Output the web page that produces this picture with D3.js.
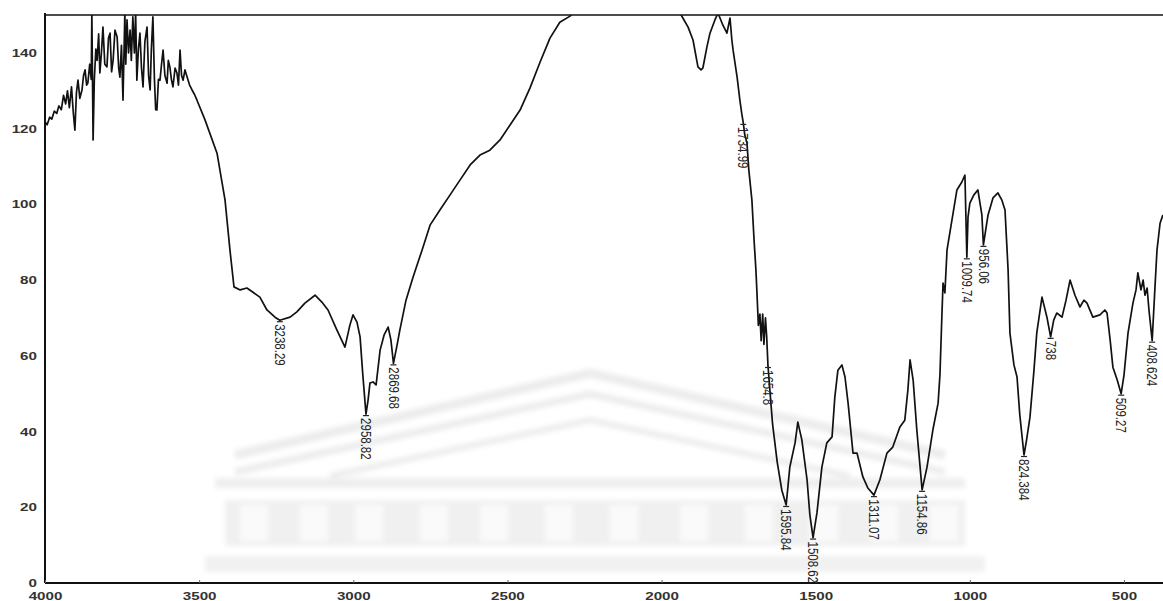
<!DOCTYPE html>
<html>
<head>
<meta charset="utf-8">
<script src="https://cdn.jsdelivr.net/npm/d3@7"></script>
<style>
  html, body { margin: 0; padding: 0; background: #fff; }
  svg { display: block; }
</style>
</head>
<body>
<svg id="chart" width="1163" height="601"></svg>
<script>
// IR spectrum: wavenumber (cm-1) vs transmittance
const wavenumbers = [
  4000, 3993, 3985, 3978, 3970, 3962, 3955, 3947, 3940, 3933,
  3927, 3921, 3914, 3908, 3903, 3898, 3893, 3887, 3880, 3875,
  3870, 3865, 3861, 3855, 3850, 3848, 3844, 3840, 3835, 3831,
  3826, 3822, 3817, 3812, 3806, 3799, 3794, 3789, 3784, 3779,
  3773, 3766, 3761, 3757, 3752, 3747, 3741, 3738, 3734, 3729,
  3724, 3720, 3715, 3710, 3706, 3702, 3697, 3692, 3687, 3682,
  3676, 3669, 3664, 3659, 3655, 3650, 3645, 3641, 3637, 3632,
  3627, 3622, 3617, 3611, 3604, 3600, 3595, 3590, 3585, 3578,
  3572, 3567, 3562, 3557, 3552, 3546, 3539, 3531, 3523, 3515,
  3507,
  3481, 3442, 3416, 3400, 3387, 3367, 3345, 3303, 3280, 3254, 3238.29, 3205, 3183, 3157,
  3124, 3102, 3082, 3053, 3027, 3011, 3001, 2988, 2978, 2969, 2958.82, 2952, 2946, 2936,
  2926, 2913, 2900, 2887, 2878, 2869.68, 2858, 2849, 2829, 2806, 2777, 2751, 2719, 2686,
  2654, 2621, 2589, 2557, 2524, 2492, 2459, 2427, 2394, 2362, 2330, 2297, 2260, 2200,
  2130, 2060, 1990, 1957, 1940, 1931, 1914, 1898, 1882, 1872, 1866, 1853, 1843, 1827,
  1817, 1801, 1788, 1778, 1772, 1768, 1755, 1746, 1740, 1734.99, 1730, 1723, 1717, 1707,
  1700, 1694, 1691, 1686, 1681, 1677, 1672, 1668, 1663, 1659, 1654.8, 1640, 1625, 1610,
  1595.84, 1584, 1567, 1558, 1545, 1528, 1519, 1508.62, 1496, 1480, 1464, 1447, 1438,
  1428, 1415, 1405, 1395, 1379, 1366, 1347, 1331, 1311.07, 1292, 1269, 1250, 1227, 1211,
  1201, 1194, 1184, 1172, 1154.86, 1139, 1120, 1103, 1097, 1091, 1087, 1081, 1074, 1058,
  1042, 1026, 1016, 1009.74, 1006, 1000, 987, 974, 961, 956.06, 941, 925, 909, 896, 886,
  876, 870, 857, 847, 838, 824.384, 816, 805, 792, 783, 766, 750, 738, 728, 718, 701,
  688, 675, 659, 643, 630, 620, 601, 578, 562, 555, 545, 536, 522, 509.27, 500, 487,
  471, 461, 455, 445, 438, 432, 425, 419, 408.624, 400, 393, 383, 374
];
const transmittance = [
  121.8, 121.0, 123.0, 122.5, 124.6, 124.0, 126.0, 125.0, 128.8, 126.5,
  130.0, 125.5, 131.0, 124.0, 119.6, 129.5, 132.8, 128.0, 130.2, 134.0,
  135.5, 131.5, 132.0, 137.0, 133.0, 150.5, 117.0, 133.0, 141.0, 138.0,
  145.0, 134.7, 140.0, 146.8, 137.0, 136.3, 144.0, 145.2, 135.0, 138.1,
  146.0, 144.2, 136.0, 133.6, 142.0, 127.5, 150.5, 137.0, 148.7, 140.0,
  146.0, 138.0, 149.5, 140.0, 150.5, 132.8, 141.0, 145.2, 136.0, 131.0,
  143.0, 146.8, 134.0, 130.2, 141.0, 149.5, 133.0, 125.0, 124.9, 133.0,
  132.8, 137.0, 140.7, 134.0, 132.0, 138.0, 136.3, 133.0, 131.0, 136.0,
  134.7, 131.5, 140.7, 134.0, 132.8, 135.5, 133.6, 131.5, 130.2, 129.0,
  127.5,
  122.3, 113.5, 101.1, 87.9, 78.2, 77.4, 77.9, 75.5, 72.1, 70.2, 69.4, 70.2, 71.6, 73.9,
  76.0, 74.2, 72.1, 66.8, 62.3, 68.1, 70.8, 68.9, 65.0, 54.9, 44.6, 48.3, 52.8, 53.1,
  52.3, 61.5, 65.5, 67.6, 64.2, 58.0, 62.8, 66.8, 74.7, 80.8, 87.9, 94.5, 98.5, 102.5,
  106.4, 110.4, 113.0, 114.3, 117.0, 120.9, 124.9, 130.7, 137.6, 143.9, 148.1, 149.7, 153.0, 156.0,
  158.0, 157.0, 154.0, 151.5, 150.5, 149.2, 146.8, 143.4, 136.3, 135.5, 136.0, 141.5, 145.2, 148.7,
  150.5, 147.3, 145.2, 149.2, 143.4, 140.7, 133.6, 127.5, 124.0, 121.5, 118.3, 116.2, 109.1, 101.1,
  90.6, 82.7, 77.4, 68.0, 71.0, 64.0, 71.0, 63.0, 70.0, 65.0, 57.3, 42.0, 32.0, 24.5,
  20.6, 30.6, 37.0, 42.5, 37.8, 27.2, 18.0, 12.0, 18.5, 30.6, 37.0, 38.6, 49.1,
  56.2, 57.6, 54.4, 47.5, 34.3, 34.3, 28.0, 25.1, 23.2, 27.2, 34.3, 35.9, 41.2, 43.0,
  51.0, 58.9, 53.6, 40.4, 24.6, 30.6, 40.4, 47.5, 55.0, 70.0, 79.2, 76.6, 88.0, 95.9,
  103.8, 105.9, 107.7, 86.0, 96.6, 100.3, 102.5, 103.8, 97.2, 89.3, 97.2, 101.7, 103.0, 101.1, 98.5,
  82.7, 66.0, 57.6, 54.4, 44.4, 33.8, 37.8, 43.8, 56.2, 66.0, 75.5, 70.2, 65.0, 69.4, 71.3, 70.2,
  74.7, 80.0, 76.0, 72.9, 74.7, 73.9, 70.2, 70.8, 72.1, 71.3, 64.2, 57.0, 53.6, 50.0, 54.9, 66.0,
  73.9, 77.4, 81.9, 77.4, 80.0, 76.0, 77.9, 72.1, 64.0, 77.4, 87.9, 95.0, 97.2
];

// Annotated band positions
const peakWaves = [3238.29, 2958.82, 2869.68, 1734.99, 1654.8, 1595.84, 1508.62, 1311.07,
                   1154.86, 1009.74, 956.06, 824.384, 738, 509.27, 408.624];
const peakLabels = ["3238.29", "2958.82", "2869.68", "1734.99", "1654.8", "1595.84", "1508.62", "1311.07",
                    "1154.86", "1009.74", "956.06", "824.384", "738", "509.27", "408.624"];

const xTicks = [4000, 3500, 3000, 2500, 2000, 1500, 1000, 500];
const yTicks = [0, 20, 40, 60, 80, 100, 120, 140];

const svg = d3.select("#chart");
const W = 1163, plotLeft = 45, plotTop = 15, plotBottom = 583;

const x = d3.scaleLinear().domain([4000, 500]).range([plotLeft, 1124]);
const y = d3.scaleLinear().domain([0, 150]).range([plotBottom, plotTop]);

// faint background emblem (pediment and colonnade)
const defs = svg.append("defs");
defs.append("filter").attr("id", "soft")
  .append("feGaussianBlur").attr("stdDeviation", 2.6);
defs.append("clipPath").attr("id", "plotClip")
  .append("rect").attr("x", plotLeft).attr("y", plotTop)
  .attr("width", W - plotLeft).attr("height", plotBottom - plotTop);

const emb = svg.append("g").attr("filter", "url(#soft)").attr("fill", "none").attr("stroke", "#ececec");
emb.append("path").attr("stroke-width", 9).attr("d", "M235,455 L590,373 L945,455");
emb.append("path").attr("stroke-width", 7).attr("d", "M235,472 L590,394 L945,472");
emb.append("path").attr("stroke-width", 6).attr("d", "M330,476 L590,420 L850,476");
emb.append("rect").attr("x", 215).attr("y", 478).attr("width", 750).attr("height", 10)
  .attr("fill", "#eeeeee").attr("stroke", "none");
const colG = svg.append("g").attr("filter", "url(#soft)");
colG.append("rect").attr("x", 225).attr("y", 500).attr("width", 740).attr("height", 46).attr("fill", "#f0f0f0");
[240, 300, 355, 420, 480, 545, 610, 680, 745, 810, 870, 930].forEach(cx => {
  colG.append("rect").attr("x", cx).attr("y", 505).attr("width", 28).attr("height", 36).attr("fill", "#fafafa");
});
colG.append("rect").attr("x", 205).attr("y", 556).attr("width", 780).attr("height", 16).attr("fill", "#f1f1f1");

// frame lines
svg.append("line").attr("x1", plotLeft).attr("x2", W).attr("y1", plotTop).attr("y2", plotTop)
  .attr("stroke", "#111").attr("stroke-width", 1.6);
svg.append("line").attr("x1", plotLeft).attr("x2", plotLeft).attr("y1", plotTop - 2).attr("y2", plotBottom)
  .attr("stroke", "#111").attr("stroke-width", 2);

// axes
const xAxis = d3.axisBottom(x).tickValues(xTicks).tickSize(-3).tickPadding(9).tickFormat(d3.format("d"));
const gx = svg.append("g").attr("transform", `translate(0,${plotBottom})`).call(xAxis);
gx.select(".domain").attr("d", `M${plotLeft},0H${W}`).attr("stroke", "#111").attr("stroke-width", 2);
gx.selectAll(".tick line").attr("stroke", "#666");
gx.selectAll("text")
  .attr("font-family", "'Liberation Sans', Arial, sans-serif").attr("font-size", 11)
  .attr("font-weight", "bold").attr("fill", "#333")
  .attr("transform", "scale(1.38,1)");

const yAxis = d3.axisLeft(y).tickValues(yTicks).tickSize(0).tickPadding(0).tickFormat(d3.format("d"));
const gy = svg.append("g").attr("transform", `translate(${plotLeft},0)`).call(yAxis);
gy.select(".domain").remove();
gy.selectAll("text")
  .attr("font-family", "'Liberation Sans', Arial, sans-serif").attr("font-size", 11)
  .attr("font-weight", "bold").attr("fill", "#333")
  .attr("x", 0)
  .attr("transform", "translate(-8,0) scale(1.38,1)");

// spectrum trace
const data = wavenumbers.map((w, i) => ({ w, t: transmittance[i] }));
const line = d3.line().x(d => x(d.w)).y(d => y(d.t));
svg.append("g").attr("clip-path", "url(#plotClip)")
  .append("path").datum(data)
  .attr("d", line).attr("fill", "none")
  .attr("stroke", "#111").attr("stroke-width", 1.7)
  .attr("stroke-linejoin", "round");

// band annotations
const peaks = peakWaves.map((w, i) => ({ w, t: transmittance[wavenumbers.indexOf(w)], label: peakLabels[i] }));
const pg = svg.append("g");
peaks.forEach(p => {
  const px = x(p.w), py = y(p.t);
  pg.append("line").attr("x1", px - 3).attr("x2", px + 3).attr("y1", py + 1.5).attr("y2", py + 1.5)
    .attr("stroke", "#222").attr("stroke-width", 1.2);
  pg.append("text")
    .attr("transform", `translate(${px},${py + 4}) rotate(90) scale(1,1.2)`)
    .attr("dy", "0.35em")
    .attr("font-family", "'Liberation Sans', Arial, sans-serif")
    .attr("font-size", 11.5).attr("fill", "#222")
    .text(p.label);
});
</script>
</body>
</html>
